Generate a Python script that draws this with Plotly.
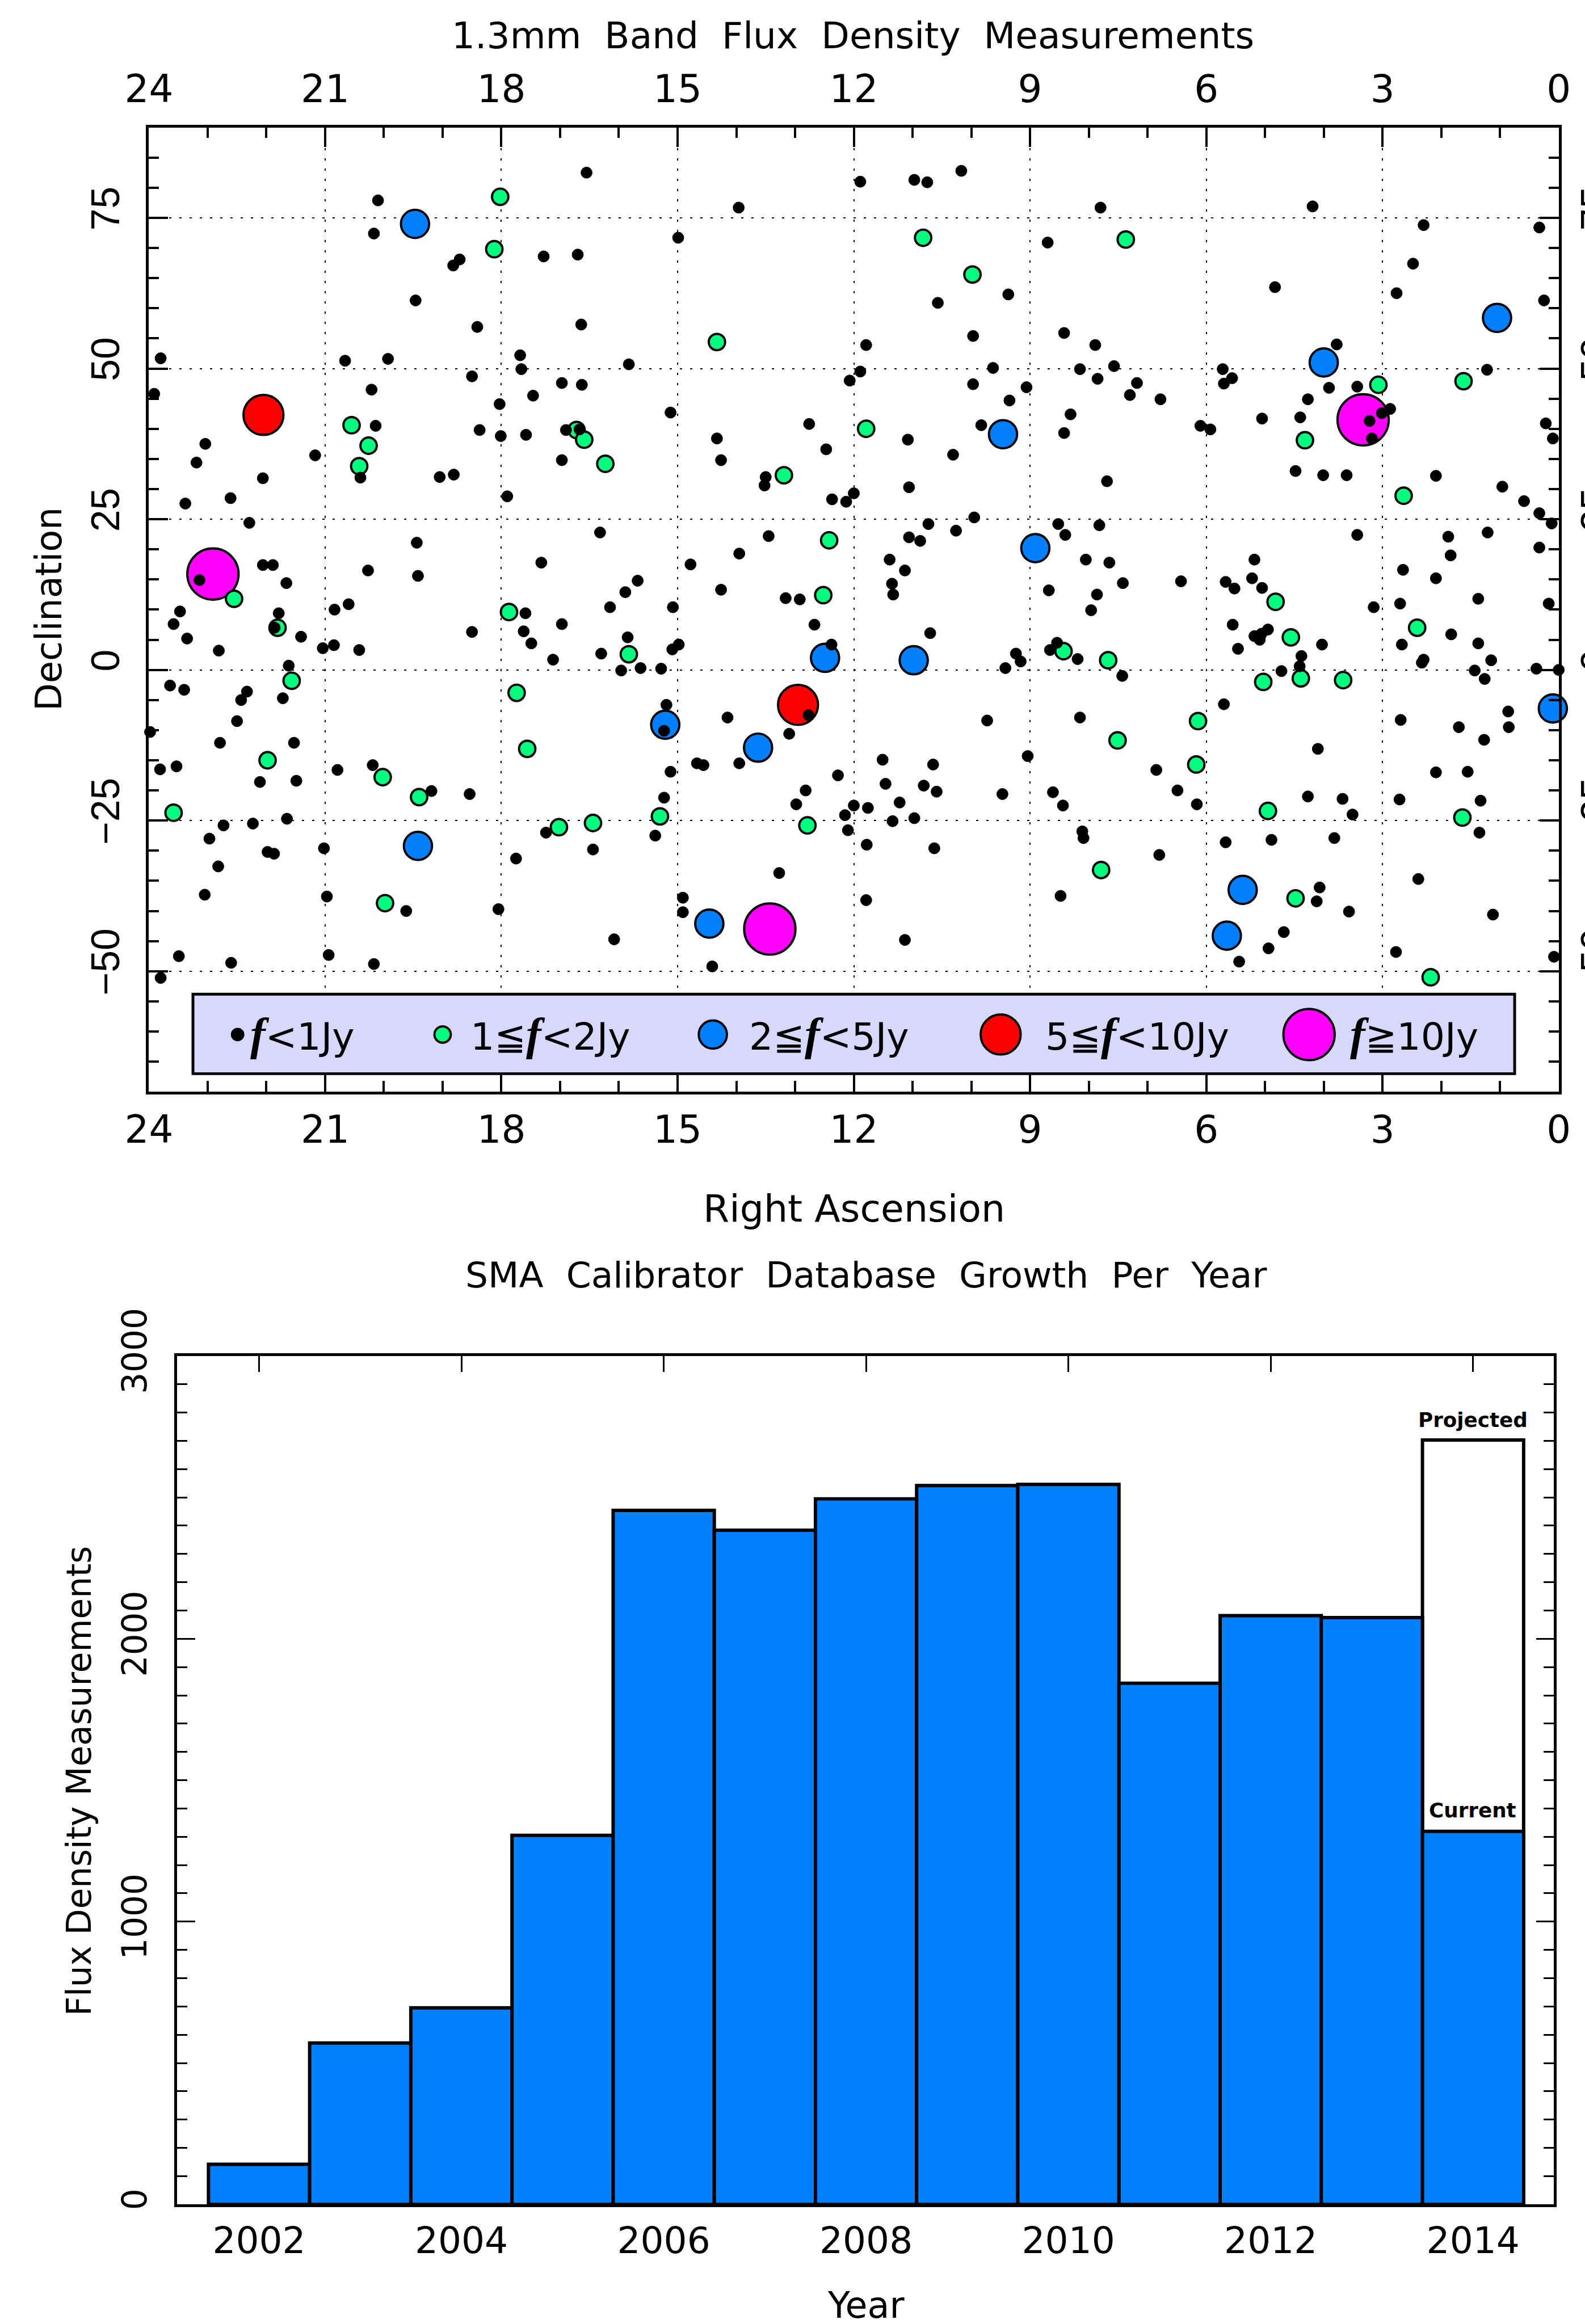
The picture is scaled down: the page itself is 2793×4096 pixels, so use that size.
import plotly.graph_objects as go

W, H = 2793, 4096
RW, RH = 2810, 4121
S = 0.993

# ---- sky map data: right ascension (hours), declination (degrees) ----
black_ra = [16.55,13.96,20.10,20.17,14.99,18.71,18.82,17.28,16.70,19.46,16.64,18.41,23.80,20.66,19.93,17.68,17.66,15.83,18.50,23.91,
 20.21,16.97,16.63,17.46,18.03,15.12,20.14,18.37,16.90,16.67,18.01,17.58,23.04,14.33,23.19,21.17,16.97,14.26,13.50,13.52,
 22.06,20.40,19.05,18.81,17.90,23.38,22.61,22.29,19.44,16.32,13.45,13.95,17.32,14.78,22.06,21.89,
 11.89,10.97,10.75,10.17,7.80,4.19,2.30,0.33,8.70,2.48,4.83,2.76,9.37,10.57,0.25,9.97,8.42,11.79,7.89,3.78,
 11.89,9.63,8.15,7.57,5.72,1.22,12.07,7.85,5.56,9.97,7.18,5.70,9.06,3.91,3.43,7.30,6.78,9.35,4.27,8.31,
 2.87,3.01,3.22,5.05,4.40,12.76,9.83,6.10,5.93,0.22,8.42,3.18,0.10,11.08,12.47,10.31,4.48,4.01,3.61,2.09,
 7.69,11.06,0.96,12.00,12.37,12.13,0.59,0.33,9.95,0.12,10.73,8.52,7.82,10.26,8.40,3.43,1.21,11.06,10.87,1.88,
 0.33,1.84,11.39,8.05,7.65,5.18,
 23.14,20.27,19.42,21.66,15.68,15.89,14.26,13.16,16.15,15.08,23.47,20.60,20.84,21.79,17.59,23.58,16.97,21.86,18.50,17.62,
 21.41,23.35,15.85,17.49,20.85,21.04,14.98,15.09,20.42,22.81,16.30,17.12,21.62,15.63,15.28,15.96,23.64,23.40,22.33,22.43,
 21.72,15.19,14.15,22.50,15.23,13.10,23.98,22.79,21.53,14.67,14.56,13.95,20.19,23.53,23.81,20.79,15.12,22.11,21.49,19.19,
 18.54,15.23,21.65,22.23,22.73,15.38,17.24,22.97,16.44,21.02,21.98,21.87,17.75,22.82,13.27,23.05,20.97,14.91,19.62,18.05,
 14.91,16.08,20.94,23.49,22.60,20.17,14.41,23.80,
 11.13,11.35,11.33,12.92,7.42,6.43,5.67,5.52,5.22,5.05,8.68,7.86,7.96,2.65,2.09,1.37,2.70,3.15,0.17,12.67,
 5.55,10.70,4.95,5.18,5.06,5.09,4.03,2.67,1.83,1.37,12.38,8.54,8.66,9.24,9.16,8.19,5.46,4.38,4.41,2.30,
 2.33,1.15,9.42,4.72,1.43,0.38,0.00,7.43,1.26,5.70,0.86,9.73,8.15,2.69,0.85,1.70,1.27,12.77,4.10,9.04,
 11.51,10.65,6.85,2.09,1.55,12.27,11.46,10.81,10.59,9.47,8.61,6.49,12.82,4.27,3.68,2.71,1.33,11.22,12.98,12.00,
 11.76,8.44,6.16,12.15,3.51,10.97,11.34,12.10,8.11,8.09,1.35,4.89,3.82,5.67,11.78,10.63,6.80,2.39,4.07,11.79,
 8.48,4.12,3.57,1.12,4.68,11.13,4.94,2.77,5.44,0.08]
black_dec = [82.5,76.7,77.9,72.4,71.7,68.1,67.1,68.6,68.9,61.3,57.3,56.9,51.7,51.3,51.6,52.2,49.9,50.7,48.7,45.8,
 46.5,47.6,47.3,45.5,44.1,42.7,40.5,39.8,39.8,39.9,38.8,39.0,37.5,38.4,34.4,35.6,34.8,34.8,32.0,30.6,
 31.8,31.9,32.0,32.4,28.8,27.6,28.5,24.4,21.1,22.8,22.2,19.3,17.8,17.5,17.4,17.4,
 81.0,81.3,80.9,82.8,76.7,76.9,73.8,73.4,70.9,67.4,63.5,62.5,62.3,60.9,61.3,55.4,55.9,53.9,53.9,54.0,
 49.5,50.1,49.9,50.4,49.9,49.8,48.0,48.3,48.4,47.4,47.6,47.5,46.9,46.8,47.0,45.6,44.9,44.7,44.9,42.4,
 43.3,42.6,41.3,41.7,41.9,40.8,40.6,40.5,39.9,40.9,39.3,38.4,38.4,38.2,36.6,35.7,33.0,32.3,32.3,32.2,
 31.3,30.3,30.4,29.3,28.3,27.9,28.0,26.0,25.3,24.3,24.2,24.2,24.0,23.1,22.4,22.4,22.8,22.0,21.4,22.1,
 20.3,19.0,18.3,18.3,17.8,18.3,
 14.9,16.5,15.6,14.4,14.8,12.9,13.3,11.9,10.4,10.4,9.7,10.9,10.0,9.4,9.4,7.6,7.6,7.0,6.3,6.4,
 5.5,5.2,5.4,4.4,4.1,3.6,4.2,3.4,3.3,3.2,2.7,1.7,0.7,0.3,0.2,-0.1,-2.6,-3.3,-3.6,-5.0,
 -4.7,-5.8,-7.9,-8.5,-10.1,-10.6,-10.3,-12.1,-12.1,-15.5,-15.8,-15.5,-15.8,-16.0,-16.5,-16.6,-16.9,-18.6,-18.4,-20.1,
 -20.6,-21.2,-24.7,-25.5,-25.8,-27.5,-27.0,-28.0,-29.8,-29.6,-30.2,-30.5,-31.3,-32.6,-33.7,-37.3,-37.6,-37.8,-40.0,-39.7,
 -40.2,-44.7,-47.3,-47.5,-48.6,-48.8,-49.2,-51.1,
 16.5,14.3,12.5,11.7,14.4,14.7,14.6,13.5,15.2,13.6,13.2,12.5,9.9,16.6,15.2,11.8,11.0,10.4,11.0,7.5,
 7.5,6.1,6.7,5.6,6.0,5.0,4.2,4.2,5.9,4.4,4.2,4.5,3.3,2.7,1.4,1.8,3.5,2.3,0.6,1.7,
 1.2,1.6,0.3,-0.2,-0.1,0.2,0.0,-1.0,-1.5,-5.7,-6.9,-8.4,-7.9,-8.3,-9.5,-9.5,-11.6,-7.5,-13.1,-14.3,
 -14.9,-15.7,-16.6,-17.0,-16.9,-17.5,-18.9,-19.2,-20.2,-20.6,-20.3,-20.0,-20.0,-21.0,-21.4,-21.5,-21.7,-22.0,-22.3,-22.5,
 -22.9,-22.5,-22.3,-24.1,-24.0,-24.6,-25.1,-26.6,-26.8,-27.9,-27.0,-28.2,-27.9,-28.6,-29.0,-29.6,-30.7,-34.7,-36.1,-38.2,
 -37.5,-38.4,-40.1,-40.6,-43.5,-44.8,-46.2,-46.8,-48.4,-47.6]

green_ra = [18.02,18.12,14.33,20.55,20.26,20.42,16.72,16.59,16.23,13.19,
 10.82,7.37,9.98,3.07,1.62,11.79,4.32,2.64,12.42,
 22.55,17.87,21.81,15.83,21.57,17.74,17.56,21.98,20.02,19.40,23.58,15.30,16.44,17.02,19.98,
 12.52,4.82,2.41,4.56,8.43,7.67,5.03,4.39,3.67,6.14,7.51,6.17,4.95,12.79,1.64,7.79,4.48,2.18]
green_dec = [78.5,69.8,54.4,40.6,37.2,33.8,39.8,38.2,34.2,32.3,
 71.7,71.4,65.6,47.3,47.9,40.0,38.1,28.9,21.5,
 11.8,9.6,7.0,2.6,-1.8,-3.8,-13.1,-15.0,-17.8,-21.1,-23.7,-24.3,-25.4,-26.1,-38.7,
 12.4,11.3,7.0,5.4,3.1,1.6,-2.0,-1.4,-1.7,-8.5,-11.7,-15.7,-23.4,-25.8,-24.5,-33.2,-37.9,-51.0]

blue_ra = [19.47,1.05,4.00,9.46,8.91,15.21,13.63,19.42,14.46,12.49,10.98,0.10,5.38,5.65]
blue_dec = [74.0,58.4,51.0,39.1,20.2,-9.1,-12.9,-29.2,-42.1,2.0,1.6,-6.4,-36.5,-44.1]

red_ra = [22.05,12.95]
red_dec = [42.3,-5.8]

magenta_ra = [22.91,13.43,3.33]
magenta_dec = [15.9,-43.0,41.5]

# legend
legend_ra = [22.49,19.00,14.40,9.50,4.25]
legend_dec = [-60.5,-60.5,-60.5,-60.5,-60.5]
legend_text_ra = [22.27,18.53,13.78,8.74,3.55]
F = '<span style="font-family:\'Liberation Serif\';font-style:italic;font-weight:bold;font-size:80px">f</span>'
legend_labels = [F+"&lt;1Jy", "1≦"+F+"&lt;2Jy", "2≦"+F+"&lt;5Jy", "5≦"+F+"&lt;10Jy", F+"≧10Jy"]
legend_box_ra = [23.25,0.75]
legend_box_dec = [-53.8,-67.0]

ra_ticks = [24,21,18,15,12,9,6,3,0]
ra_tick_labels = ["24","21","18","15","12","9","6","3","0"]
dec_ticks = [75,50,25,0,-25,-50]
dec_tick_labels = ["75","50","25","0","−25","−50"]

# ---- growth histogram data ----
years = [2002,2003,2004,2005,2006,2007,2008,2009,2010,2011,2012,2013,2014]
counts = [142,571,695,1305,2454,2384,2495,2542,2546,1843,2082,2075,1319]
projected_year = [2014]
projected_count = [2703]
year_ticks = [2002,2004,2006,2008,2010,2012,2014]
count_ticks = [0,1000,2000,3000]

FONT = "DejaVu Sans"
BLUE = "#007FFF"
GREEN = "#00FF7F"
RED = "#FF0000"
MAGENTA = "#FF00FF"

def px(x): return x / RW
def py(y): return 1 - y / RH

fig = go.Figure()

def dots(ra, dec, color, size, lw, axes=("x","y")):
    fig.add_trace(go.Scatter(x=ra, y=dec, mode="markers", xaxis=axes[0], yaxis=axes[1], cliponaxis=False,
        hoverinfo="skip", showlegend=False,
        marker=dict(color=color, size=size*S, opacity=1, line=dict(color="black", width=lw*S))))

# label-only top/right axes
fig.add_trace(go.Scatter(x=[24,0], y=[90,-70], mode="markers", marker=dict(opacity=0, size=1),
    xaxis="x2", yaxis="y2", showlegend=False, hoverinfo="skip"))

dots(magenta_ra, magenta_dec, MAGENTA, 91, 4)
dots(red_ra, red_dec, RED, 71, 4)
dots(blue_ra, blue_dec, BLUE, 50, 4)
dots(green_ra, green_dec, GREEN, 29, 4)
dots(black_ra, black_dec, "black", 20, 1)

# legend markers
leg_col = ["black", GREEN, BLUE, RED, MAGENTA]
leg_size = [20, 29, 50, 71, 91]
fig.add_trace(go.Scatter(x=legend_ra, y=legend_dec, mode="markers", showlegend=False, hoverinfo="skip",
    marker=dict(color=leg_col, size=[s*S for s in leg_size], opacity=1, line=dict(color="black", width=4*S))))

fig.add_shape(type="rect", xref="x", yref="y", x0=legend_box_ra[0], x1=legend_box_ra[1],
    y0=legend_box_dec[0], y1=legend_box_dec[1], layer="between",
    fillcolor="#D8D8FF", line=dict(color="black", width=5*S))

# histogram
fig.add_trace(go.Bar(x=projected_year, y=projected_count, width=1, xaxis="x3", yaxis="y3", showlegend=False,
    hoverinfo="skip", marker=dict(color="white", line=dict(color="black", width=6*S))))
fig.add_trace(go.Bar(x=years, y=counts, width=1, xaxis="x3", yaxis="y3", showlegend=False,
    hoverinfo="skip", marker=dict(color=BLUE, line=dict(color="black", width=6*S))))

dom1x = [px(264), px(2763.4)]
dom1y = [py(1936), py(226)]
dom2x = [px(314), px(2755)]
dom2y = [py(3909), py(2404.5)]

def fnt(size): return dict(family=FONT, size=size*S, color="black")

ax_common = dict(showline=True, linecolor="black", linewidth=5*S, ticks="inside", tickcolor="black",
                 tickwidth=4*S, zeroline=False, automargin=False)

fig.update_layout(
    template="none",
    width=W, height=H, margin=dict(l=0, r=0, t=0, b=0, autoexpand=False), paper_bgcolor="white", plot_bgcolor="white",
    barmode="overlay", showlegend=False,
    xaxis=dict(ax_common, domain=dom1x, range=[24,0], anchor="y", side="bottom", mirror="ticks",
        tickvals=ra_ticks, ticktext=ra_tick_labels, ticklen=35*S, tickfont=fnt(68), ticklabelstandoff=4,
        showgrid=True, gridcolor="black", gridwidth=2.5*S, griddash="4px,14px",
        minor=dict(dtick=1, ticks="inside", ticklen=19*S, tickwidth=4*S, tickcolor="black", showgrid=False)),
    yaxis=dict(ax_common, domain=dom1y, range=[-70,90], anchor="x", side="left", mirror="ticks",
        tickvals=dec_ticks, ticktext=dec_tick_labels, ticklen=34*S, tickangle=-90,
        tickfont=dict(family="Liberation Sans", size=70*S, color="black"), ticklabelstandoff=20, ticklabelshift=-6,
        showgrid=True, gridcolor="black", gridwidth=2.5*S, griddash="4px,14px",
        minor=dict(dtick=5, tick0=0, ticks="inside", ticklen=18*S, tickwidth=4*S, tickcolor="black", showgrid=False)),
    xaxis2=dict(domain=dom1x, range=[24,0], anchor="y2", side="top", overlaying="x", showline=False, showgrid=False,
        zeroline=False, automargin=False, ticks="", tickvals=ra_ticks, ticktext=ra_tick_labels, tickfont=fnt(68), ticklabelstandoff=30),
    yaxis2=dict(domain=dom1y, range=[-70,90], anchor="x2", side="right", overlaying="y", showline=False, showgrid=False,
        zeroline=False, automargin=False, ticks="", tickvals=dec_ticks, ticktext=dec_tick_labels, tickangle=-90,
        tickfont=dict(family="Liberation Sans", size=70*S, color="black"), ticklabelstandoff=18, ticklabelshift=-6),
    xaxis3=dict(ax_common, domain=dom2x, range=[2001.19,2014.80], anchor="y3", side="bottom", mirror="ticks",
        tickvals=year_ticks, ticklen=28*S, tickwidth=3*S, tickfont=fnt(65), ticklabelstandoff=3, showgrid=False,
        layer="below traces", tickformat="d"),
    yaxis3=dict(ax_common, domain=dom2y, range=[0,3000], anchor="x3", side="left", mirror="ticks",
        tickvals=count_ticks, ticklen=32*S, tickwidth=3*S, tickangle=-90, tickfont=fnt(60), ticklabelstandoff=25,
        showgrid=False, layer="below traces",
        minor=dict(dtick=100, ticks="inside", ticklen=18*S, tickwidth=3*S, tickcolor="black", showgrid=False)),
)

anns = [
    ("1.3mm  Band  Flux  Density  Measurements", 1512, 63, 65, 0, FONT, False),
    ("Right Ascension", 1514, 2143, 67, 0, FONT, False),
    ("Declination", 87, 1080, 64, -90, FONT, False),
    ("SMA  Calibrator  Database  Growth  Per  Year", 1536, 2261, 63.5, 0, FONT, False),
    ("Flux Density Measurements", 141, 3158, 60, -90, FONT, False),
    ("Year", 1535, 4088, 64, 0, FONT, False),
]
for text, x, y, size, ang, fam, _ in anns:
    fig.add_annotation(text=text, xref="paper", yref="paper", x=px(x), y=py(y), showarrow=False,
        xanchor="center", yanchor="middle", textangle=ang, font=dict(family=fam, size=size*S, color="black"))

fig.add_annotation(text="<b>Projected</b>", xref="paper", yref="paper", x=px(2611), y=py(2518), showarrow=False,
    xanchor="center", yanchor="middle", font=dict(family=FONT, size=36*S, color="black"))
fig.add_annotation(text="<b>Current</b>", xref="paper", yref="paper", x=px(2611), y=py(3210), showarrow=False,
    xanchor="center", yanchor="middle", font=dict(family=FONT, size=36*S, color="black"))

for ra, lab in zip(legend_text_ra, legend_labels):
    fig.add_annotation(text=lab, xref="x", yref="y", x=ra, y=legend_dec[0], showarrow=False,
        xanchor="left", yanchor="middle", font=dict(family=FONT, size=67*S, color="black"),
        borderpad=0, borderwidth=0)

fig.write_html("out.html", config={"displayModeBar": False},
    post_script="document.body.style.margin='0';document.documentElement.style.overflow='hidden';")
